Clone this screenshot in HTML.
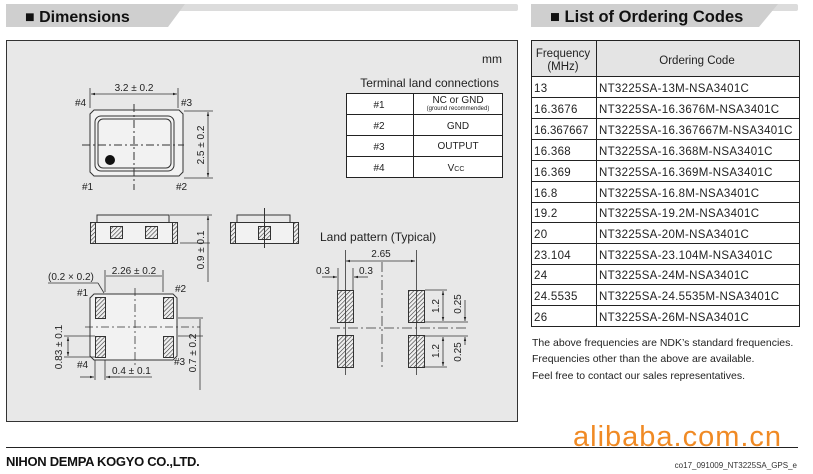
<!DOCTYPE html>
<html><head><meta charset="utf-8"><style>
html,body{margin:0;padding:0;background:#fff;}
svg{display:block;font-family:"Liberation Sans",Arial,sans-serif;}
</style></head><body>
<svg width="813" height="474" viewBox="0 0 813 474" xmlns="http://www.w3.org/2000/svg">
<defs>
<pattern id="h" width="3" height="3" patternUnits="userSpaceOnUse" patternTransform="rotate(45)">
<rect width="3" height="3" fill="#f0f0f0"/><line x1="0" y1="0" x2="0" y2="3" stroke="#333" stroke-width="1.2"/></pattern>
<marker id="a" viewBox="0 0 10 10" refX="10" refY="5" markerWidth="5" markerHeight="5" orient="auto-start-reverse"><path d="M0,2 L10,5 L0,8z" fill="#222"/></marker>
</defs>
<!-- headers -->
<rect x="6" y="4" width="512" height="7" rx="2" fill="#dcdcdc"/>
<path d="M6,4 H185 L168,27 H6z" fill="#cfcfcf"/>
<text x="25" y="22" font-size="16" font-weight="bold" fill="#111">■ Dimensions</text>
<rect x="531" y="4" width="267" height="7" rx="2" fill="#dcdcdc"/>
<path d="M531,4 H778 L759,27 H531z" fill="#cfcfcf"/>
<text x="550" y="22" font-size="16.5" font-weight="bold" fill="#111">■ List of Ordering Codes</text>
<!-- dims box -->
<rect x="6.5" y="40.5" width="511" height="381" fill="#e8e8e8" stroke="#333"/>
<text x="502" y="63" font-size="12" text-anchor="end" fill="#222">mm</text>
<text x="499" y="87" font-size="12" text-anchor="end" fill="#222">Terminal land connections</text>
<g stroke="#222" fill="#fff"><rect x="346.5" y="93.5" width="156" height="84"/></g>
<g stroke="#222"><line x1="413.5" y1="93" x2="413.5" y2="177"/><line x1="346" y1="114.5" x2="502" y2="114.5"/><line x1="346" y1="135.5" x2="502" y2="135.5"/><line x1="346" y1="156.5" x2="502" y2="156.5"/></g>
<g font-size="10" fill="#222" text-anchor="middle">
<text x="379" y="108">#1</text><text x="379" y="129">#2</text><text x="379" y="150">#3</text><text x="379" y="171">#4</text>
<text x="458" y="103">NC or GND</text><text x="458" y="110" font-size="6">(ground recommended)</text>
<text x="458" y="129">GND</text><text x="458" y="149">OUTPUT</text><text x="456" y="171">V<tspan font-size="7">CC</tspan></text>
</g>
<!-- top view -->
<g stroke="#333" fill="none">
<path d="M94,110 H179 L183,114 V172 L179,176 H94 L90,172 V114z" fill="#f2f2f2"/>
<rect x="95" y="116" width="79" height="55" rx="6"/>
<rect x="98" y="119" width="73" height="49" rx="5"/>
<line x1="134" y1="104" x2="134" y2="190" stroke-dasharray="8,3,2,3"/>
<line x1="82" y1="145" x2="184" y2="145" stroke-dasharray="8,3,2,3"/>
<line x1="90" y1="88" x2="90" y2="108" stroke-width=".8"/><line x1="178" y1="88" x2="178" y2="108" stroke-width=".8"/>
<line x1="91" y1="94" x2="177" y2="94" stroke-width=".8" marker-start="url(#a)" marker-end="url(#a)"/>
<line x1="184" y1="111" x2="213" y2="111" stroke-width=".8"/><line x1="184" y1="178" x2="213" y2="178" stroke-width=".8"/>
<line x1="208" y1="112" x2="208" y2="177" stroke-width=".8" marker-start="url(#a)" marker-end="url(#a)"/>
</g>
<circle cx="110" cy="160" r="5" fill="#111"/>
<g font-size="10" fill="#222">
<text x="134" y="91" text-anchor="middle">3.2 ± 0.2</text>
<text x="75" y="106">#4</text><text x="181" y="106">#3</text><text x="82" y="190">#1</text><text x="176" y="190">#2</text>
<text transform="translate(204,145) rotate(-90)" text-anchor="middle">2.5 ± 0.2</text>
</g>
<!-- side views -->
<g stroke="#333">
<path d="M97,222 V215 H169 V222" fill="none"/>
<rect x="90.5" y="222.5" width="87" height="21" fill="#f2f2f2"/>
<rect x="90.5" y="222.5" width="5" height="21" fill="url(#h)"/><rect x="172.5" y="222.5" width="5" height="21" fill="url(#h)"/>
<rect x="110.5" y="226.5" width="12" height="12" fill="url(#h)"/><rect x="145.5" y="226.5" width="12" height="12" fill="url(#h)"/>
<line x1="170" y1="215" x2="212" y2="215" stroke-width=".8"/><line x1="180" y1="243" x2="210" y2="243" stroke-width=".8"/>
<line x1="208" y1="216" x2="208" y2="282" stroke-width=".8" marker-start="url(#a)"/>
<path d="M237,222 V215 H290 V222" fill="none"/>
<rect x="230.5" y="222.5" width="68" height="21" fill="#f2f2f2"/>
<rect x="230.5" y="222.5" width="5" height="21" fill="url(#h)"/><rect x="293.5" y="222.5" width="5" height="21" fill="url(#h)"/>
<rect x="258.5" y="226.5" width="12" height="13" fill="url(#h)"/>
<line x1="264.5" y1="208" x2="264.5" y2="248"/>
</g>
<text transform="translate(204,250) rotate(-90)" text-anchor="middle" font-size="10" fill="#222">0.9 ± 0.1</text>
<!-- bottom view -->
<g stroke="#333">
<path d="M94,294 H173 L177,298 V356 L173,360 H94 L90,356 V298z" fill="#f2f2f2"/>
<rect x="95.5" y="297.5" width="10" height="21" fill="url(#h)"/><rect x="163.5" y="297.5" width="10" height="21" fill="url(#h)"/>
<rect x="95.5" y="336.5" width="10" height="21" fill="url(#h)"/><rect x="163.5" y="336.5" width="10" height="21" fill="url(#h)"/>
<g fill="none" stroke-width=".8">
<line x1="135" y1="288" x2="135" y2="366" stroke-dasharray="8,3,2,3"/>
<line x1="85" y1="327" x2="200" y2="327" stroke-dasharray="8,3,2,3"/>
<line x1="105" y1="270" x2="105" y2="292"/><line x1="163" y1="270" x2="163" y2="292"/>
<line x1="106" y1="276" x2="162" y2="276"/>
<line x1="48" y1="283" x2="98" y2="283"/><line x1="98" y1="283" x2="104" y2="293"/>
<line x1="64" y1="336" x2="95" y2="336"/><line x1="64" y1="357" x2="95" y2="357"/>
<line x1="68" y1="337" x2="68" y2="356" marker-start="url(#a)" marker-end="url(#a)"/>
<line x1="95" y1="360" x2="95" y2="380"/><line x1="105" y1="360" x2="105" y2="380"/>
<line x1="80" y1="377" x2="94" y2="377" marker-end="url(#a)"/><line x1="120" y1="377" x2="106" y2="377" marker-end="url(#a)"/><line x1="106" y1="377" x2="152" y2="377"/>
<line x1="178" y1="318" x2="203" y2="318"/><line x1="178" y1="336" x2="203" y2="336"/>
<line x1="200" y1="319" x2="200" y2="390"/>
</g></g>
<g font-size="10" fill="#222">
<text x="134" y="274" text-anchor="middle">2.26 ± 0.2</text>
<text x="48" y="280">(0.2 × 0.2)</text>
<text x="77" y="296">#1</text><text x="175" y="292">#2</text><text x="77" y="368">#4</text><text x="174" y="365">#3</text>
<text x="112" y="374">0.4 ± 0.1</text>
<text transform="translate(62,347) rotate(-90)" text-anchor="middle">0.83 ± 0.1</text>
<text transform="translate(196,353) rotate(-90)" text-anchor="middle">0.7 ± 0.2</text>
</g>
<!-- land pattern -->
<text x="320" y="241" font-size="12" fill="#222">Land pattern (Typical)</text>
<g stroke="#333">
<rect x="337.5" y="290.5" width="16" height="32" fill="url(#h)"/><rect x="337.5" y="335.5" width="16" height="32" fill="url(#h)"/>
<rect x="408.5" y="290.5" width="16" height="32" fill="url(#h)"/><rect x="408.5" y="335.5" width="16" height="32" fill="url(#h)"/>
<g stroke-width=".8" fill="none">
<line x1="345.5" y1="250" x2="345.5" y2="375"/><line x1="416.5" y1="250" x2="416.5" y2="375"/>
<line x1="338" y1="268" x2="338" y2="290"/><line x1="353" y1="268" x2="353" y2="290"/>
<line x1="346" y1="261" x2="415" y2="261" marker-start="url(#a)" marker-end="url(#a)"/>
<line x1="322" y1="277" x2="337" y2="277" marker-end="url(#a)"/><line x1="368" y1="277" x2="354" y2="277" marker-end="url(#a)"/>
<line x1="382" y1="262" x2="382" y2="368" stroke-dasharray="10,3,2,3"/>
<line x1="330" y1="328" x2="467" y2="328" stroke-dasharray="10,3,2,3"/>
<line x1="425" y1="290" x2="447" y2="290"/><line x1="425" y1="322" x2="468" y2="322"/><line x1="425" y1="336" x2="468" y2="336"/><line x1="425" y1="367" x2="447" y2="367"/>
<line x1="443" y1="291" x2="443" y2="321" marker-start="url(#a)" marker-end="url(#a)"/>
<line x1="443" y1="337" x2="443" y2="366" marker-start="url(#a)" marker-end="url(#a)"/>
<line x1="465" y1="300" x2="465" y2="321" marker-end="url(#a)"/><line x1="465" y1="345" x2="465" y2="337" marker-end="url(#a)"/>
</g></g>
<g font-size="10" fill="#222">
<text x="381" y="257" text-anchor="middle">2.65</text>
<text x="316" y="274">0.3</text><text x="359" y="274">0.3</text>
<text transform="translate(439,306) rotate(-90)" text-anchor="middle">1.2</text>
<text transform="translate(439,351) rotate(-90)" text-anchor="middle">1.2</text>
<text transform="translate(461,304) rotate(-90)" text-anchor="middle">0.25</text>
<text transform="translate(461,352) rotate(-90)" text-anchor="middle">0.25</text>
</g>
<!-- ordering table -->
<rect x="531.5" y="40.5" width="268" height="36" fill="#e4e4e4"/>
<g stroke="#222" fill="none">
<rect x="531.5" y="40.5" width="268" height="286"/>
<line x1="596.5" y1="40" x2="596.5" y2="326"/>
<line x1="531" y1="76.5" x2="799" y2="76.5"/><line x1="531" y1="97.5" x2="799" y2="97.5"/><line x1="531" y1="118.5" x2="799" y2="118.5"/><line x1="531" y1="139.5" x2="799" y2="139.5"/><line x1="531" y1="160.5" x2="799" y2="160.5"/><line x1="531" y1="181.5" x2="799" y2="181.5"/><line x1="531" y1="202.5" x2="799" y2="202.5"/><line x1="531" y1="222.5" x2="799" y2="222.5"/><line x1="531" y1="243.5" x2="799" y2="243.5"/><line x1="531" y1="264.5" x2="799" y2="264.5"/><line x1="531" y1="284.5" x2="799" y2="284.5"/><line x1="531" y1="305.5" x2="799" y2="305.5"/>
</g>
<g font-size="11.5" fill="#222">
<text x="563" y="57" text-anchor="middle">Frequency</text><text x="563" y="70" text-anchor="middle">(MHz)</text>
<text x="697" y="64" text-anchor="middle">Ordering Code</text>
<g letter-spacing="0.3">
<text x="534" y="92">13</text><text x="599" y="92">NT3225SA-13M-NSA3401C</text>
<text x="534" y="113">16.3676</text><text x="599" y="113">NT3225SA-16.3676M-NSA3401C</text>
<text x="534" y="134" letter-spacing="0">16.367667</text><text x="599" y="134">NT3225SA-16.367667M-NSA3401C</text>
<text x="534" y="155">16.368</text><text x="599" y="155">NT3225SA-16.368M-NSA3401C</text>
<text x="534" y="176">16.369</text><text x="599" y="176">NT3225SA-16.369M-NSA3401C</text>
<text x="534" y="197">16.8</text><text x="599" y="197">NT3225SA-16.8M-NSA3401C</text>
<text x="534" y="217">19.2</text><text x="599" y="217">NT3225SA-19.2M-NSA3401C</text>
<text x="534" y="238">20</text><text x="599" y="238">NT3225SA-20M-NSA3401C</text>
<text x="534" y="259">23.104</text><text x="599" y="259">NT3225SA-23.104M-NSA3401C</text>
<text x="534" y="279">24</text><text x="599" y="279">NT3225SA-24M-NSA3401C</text>
<text x="534" y="300">24.5535</text><text x="599" y="300">NT3225SA-24.5535M-NSA3401C</text>
<text x="534" y="321">26</text><text x="599" y="321">NT3225SA-26M-NSA3401C</text>
</g>
</g>
<g font-size="10.5" fill="#222">
<text x="532" y="346">The above frequencies are NDK’s standard frequencies.</text>
<text x="532" y="362">Frequencies other than the above are available.</text>
<text x="532" y="379">Feel free to contact our sales representatives.</text>
</g>
<!-- footer -->
<text x="573" y="446" font-size="29" fill="#f08a24" letter-spacing="1">alibaba.com.cn</text>
<line x1="6" y1="447.5" x2="798" y2="447.5" stroke="#222" stroke-width="1"/>
<text x="6" y="466" font-size="13" font-weight="bold" fill="#111" letter-spacing="-0.3">NIHON DEMPA KOGYO CO.,LTD.</text>
<text x="797" y="468" font-size="8" fill="#333" text-anchor="end">co17_091009_NT3225SA_GPS_e</text>
</svg>
</body></html>
